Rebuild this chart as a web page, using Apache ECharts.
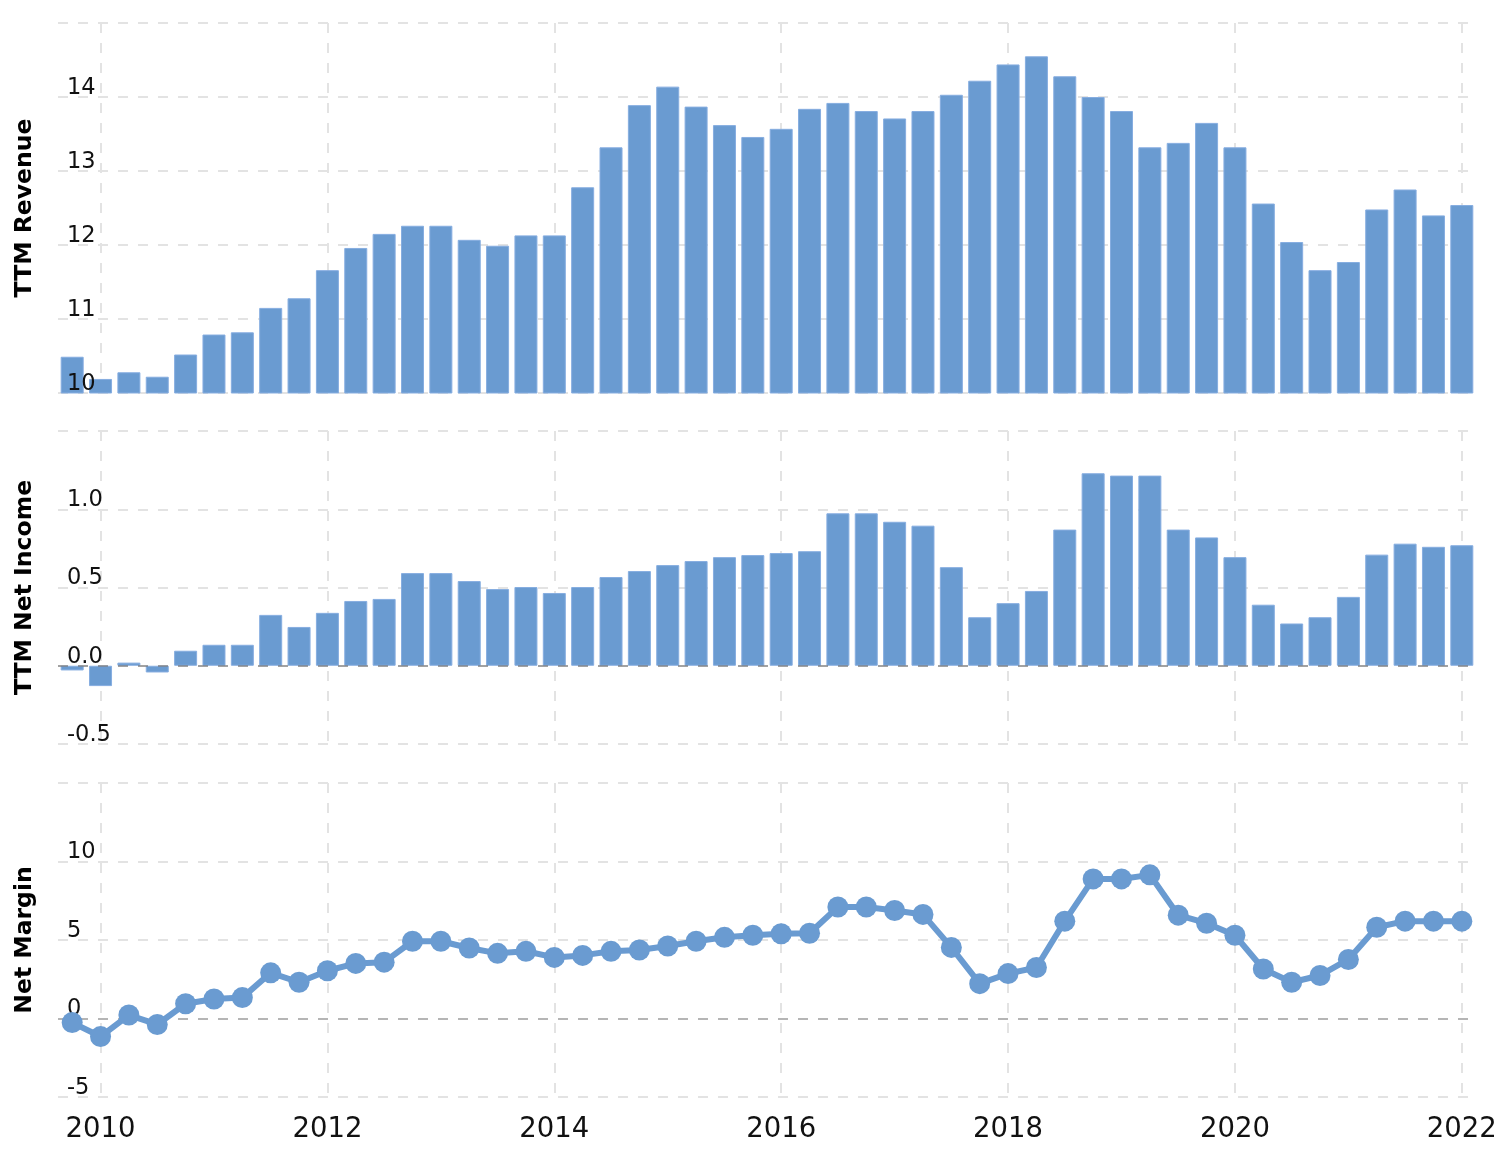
<!DOCTYPE html>
<html>
<head>
<meta charset="utf-8">
<script src="https://cdn.jsdelivr.net/npm/echarts@6/dist/echarts.min.js"></script>
<style>
  html, body { margin: 0; padding: 0; background: #fff; }
  #chart { width: 1510px; height: 1158px; }
</style>
</head>
<body>
<div id="chart"></div>
<script>
const quarters = [
  '2009-09-30','2009-12-31','2010-03-31','2010-06-30','2010-09-30','2010-12-31','2011-03-31','2011-06-30','2011-09-30','2011-12-31',
  '2012-03-31','2012-06-30','2012-09-30','2012-12-31','2013-03-31','2013-06-30','2013-09-30','2013-12-31','2014-03-31','2014-06-30',
  '2014-09-30','2014-12-31','2015-03-31','2015-06-30','2015-09-30','2015-12-31','2016-03-31','2016-06-30','2016-09-30','2016-12-31',
  '2017-03-31','2017-06-30','2017-09-30','2017-12-31','2018-03-31','2018-06-30','2018-09-30','2018-12-31','2019-03-31','2019-06-30',
  '2019-09-30','2019-12-31','2020-03-31','2020-06-30','2020-09-30','2020-12-31','2021-03-31','2021-06-30','2021-09-30','2021-12-31'
];
const ttmRevenue = [
  10.49,10.19,10.28,10.22,10.52,10.79,10.82,11.15,11.28,11.66,
  11.96,12.15,12.26,12.26,12.07,11.99,12.13,12.13,12.78,13.32,
  13.89,14.14,13.87,13.62,13.46,13.57,13.84,13.92,13.81,13.71,
  13.81,14.03,14.22,14.44,14.55,14.28,14.00,13.81,13.32,13.38,
  13.65,13.32,12.56,12.04,11.66,11.77,12.48,12.75,12.40,12.54
];
const ttmNetIncome = [
  -0.03,-0.13,0.02,-0.043,0.096,0.134,0.134,0.325,0.248,0.338,
  0.414,0.427,0.592,0.592,0.541,0.49,0.503,0.465,0.503,0.567,
  0.605,0.643,0.669,0.694,0.707,0.72,0.732,0.974,0.974,0.92,
  0.895,0.63,0.31,0.40,0.478,0.87,1.23,1.215,1.215,0.87,
  0.82,0.694,0.39,0.27,0.31,0.44,0.71,0.78,0.76,0.77
];
const netMargin = [
  -0.26,-1.15,0.22,-0.38,0.94,1.24,1.33,2.91,2.31,3.04,
  3.51,3.59,4.92,4.92,4.49,4.15,4.28,3.89,4.02,4.28,
  4.36,4.62,4.92,5.17,5.30,5.40,5.43,7.10,7.10,6.88,
  6.63,4.53,2.22,2.86,3.25,6.20,8.89,8.89,9.15,6.58,
  6.07,5.30,3.15,2.31,2.74,3.76,5.81,6.20,6.20,6.20
];
const yearTickDates = ['2009-12-31','2011-12-31','2013-12-31','2015-12-31','2017-12-31','2019-12-31','2021-12-31'];
const yearTickLabels = ['2010','2012','2014','2016','2018','2020','2022'];
const panelNames = ['TTM Revenue', 'TTM Net Income', 'Net Margin'];

const BLUE = '#6a9bd1';
const FONT = 'DejaVu Sans';
const gridColor = '#e3e3e3';
const isYearTick = (idx, val) => yearTickDates.indexOf(val) >= 0;

const grids = [
  { left: 58, right: 34, top: 23, height: 370 },
  { left: 58, right: 34, top: 431, height: 313 },
  { left: 58, right: 34, top: 783, height: 314 }
];

const xAxes = [0, 1, 2].map(i => ({
  type: 'category',
  gridIndex: i,
  data: quarters,
  boundaryGap: true,
  axisLine: { show: false },
  axisTick: { show: false },
  axisLabel: i === 2 ? {
    show: true,
    interval: isYearTick,
    formatter: v => { const k = yearTickDates.indexOf(v); return k >= 0 ? yearTickLabels[k] : ''; },
    fontFamily: FONT, fontSize: 27.5, color: '#111', margin: 19
  } : { show: false },
  splitLine: {
    show: true, interval: isYearTick, alignWithLabel: true,
    lineStyle: { color: gridColor, width: 2, type: [10, 10] }
  }
}));

const yLabel = { inside: true, margin: 9, verticalAlign: 'bottom', lineHeight: 18, fontFamily: FONT, fontSize: 22.5, color: '#111', showMaxLabel: false };
const yName = { fontFamily: FONT, fontSize: 23.5, fontWeight: 'bold', color: '#000' };

const yCfg = [
  { min: 10, max: 15, interval: 1 },
  { min: -0.5, max: 1.5, interval: 0.5, fmt: v => v.toFixed(1) },
  { min: -5, max: 15, interval: 5 }
];

const yAxes = yCfg.map((c, i) => ({
  type: 'value', gridIndex: i, position: 'left', min: c.min, max: c.max, interval: c.interval,
  name: panelNames[i], nameLocation: 'middle', nameRotate: 90, nameGap: 21, nameTextStyle: yName,
  axisLine: { show: false }, axisTick: { show: false },
  axisLabel: i === 0 ? { show: false } : Object.assign({}, yLabel, c.fmt ? { formatter: c.fmt } : {}),
  splitLine: { show: true, lineStyle: { color: i === 2 ? [gridColor, '#b5b5b5', gridColor, gridColor, gridColor] : gridColor, width: 2, type: [10, 10] } }
}));
// label-only copy of the revenue axis, drawn above the bars
yAxes.push({
  type: 'value', gridIndex: 0, position: 'left', offset: 0, min: yCfg[0].min, max: yCfg[0].max, interval: yCfg[0].interval, z: 10,
  axisLine: { show: false }, axisTick: { show: false }, splitLine: { show: false },
  axisLabel: yLabel
});

const option = {
  animation: false,
  backgroundColor: '#fff',
  grid: grids,
  xAxis: xAxes,
  yAxis: yAxes,
  series: [
    {
      type: 'bar', xAxisIndex: 0, yAxisIndex: 0, data: ttmRevenue, barWidth: 23, clip: true,
      itemStyle: { color: BLUE, borderColor: '#86ade0', borderWidth: 1 }
    },
    {
      type: 'bar', xAxisIndex: 1, yAxisIndex: 1, data: ttmNetIncome, barWidth: 23, clip: true,
      itemStyle: { color: BLUE, borderColor: '#86ade0', borderWidth: 1 },
      markLine: {
        silent: true, symbol: 'none', label: { show: false }, z: 10,
        lineStyle: { color: 'rgba(110,110,110,0.55)', width: 2, type: [10, 10] },
        data: [{ yAxis: 0 }]
      }
    },
    {
      type: 'line', xAxisIndex: 2, yAxisIndex: 2, data: netMargin,
      symbol: 'circle', symbolSize: 21, showAllSymbol: true,
      lineStyle: { color: BLUE, width: 6 },
      itemStyle: { color: BLUE }
    }
  ]
};

echarts.init(document.getElementById('chart')).setOption(option);
</script>
</body>
</html>
